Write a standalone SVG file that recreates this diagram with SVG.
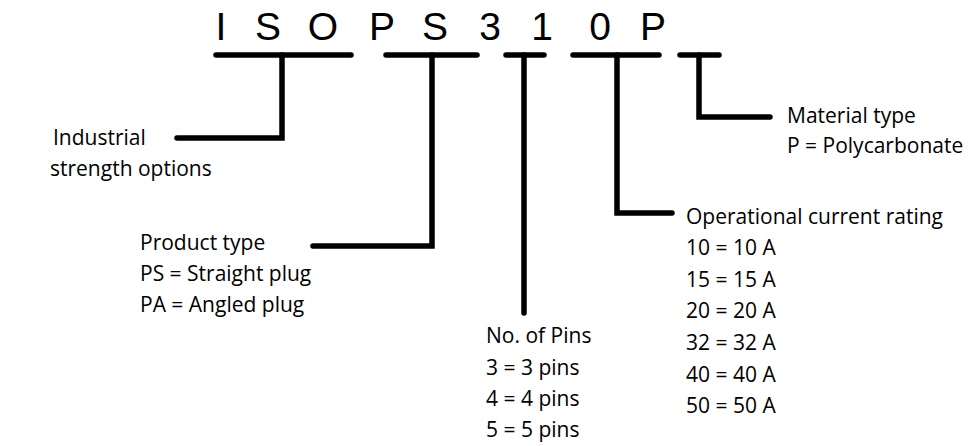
<svg xmlns="http://www.w3.org/2000/svg" width="978" height="446" viewBox="0 0 978 446">
<style>
.big{font-family:"Liberation Sans","Open Sans",sans-serif;font-size:39px;fill:#000;text-anchor:middle}
.lbl{font-family:"Open Sans","Liberation Sans",sans-serif;font-size:21px;fill:#000}
.ln{fill:none;stroke:#000;stroke-width:5.5;stroke-linecap:round;stroke-linejoin:miter}
</style>
<rect width="978" height="446" fill="#fff"/>
<g id="code">
<text class="big" x="221" y="40">I</text>
<text class="big" x="268" y="40">S</text>
<text class="big" x="323" y="40">O</text>
<text class="big" x="382" y="40">P</text>
<text class="big" x="435" y="40">S</text>
<text class="big" x="490" y="40">3</text>
<text class="big" x="542" y="40">1</text>
<text class="big" x="600" y="40">0</text>
<text class="big" x="653" y="40">P</text>
</g>
<g id="connectors">
<line class="ln" x1="216" y1="55" x2="351" y2="55"/>
<line class="ln" x1="386" y1="55" x2="477" y2="55"/>
<line class="ln" x1="506" y1="55" x2="544" y2="55"/>
<line class="ln" x1="573" y1="55" x2="659" y2="55"/>
<line class="ln" x1="680" y1="55" x2="719" y2="55"/>
<polyline class="ln" points="282,55 282,138 177,138"/>
<polyline class="ln" points="432,55 432,246 313,246"/>
<polyline class="ln" points="524,55 524,313"/>
<polyline class="ln" points="617,55 617,213 672,213"/>
<polyline class="ln" points="699,55 699,117 770,117"/>
</g>
<g id="industrial">
<text class="lbl" x="53" y="145">Industrial</text>
<text class="lbl" x="50" y="176">strength options</text>
</g>
<g id="product">
<text class="lbl" x="140" y="250">Product type</text>
<text class="lbl" x="140" y="281">PS = Straight plug</text>
<text class="lbl" x="140" y="312">PA = Angled plug</text>
</g>
<g id="pins">
<text class="lbl" x="486" y="343">No. of Pins</text>
<text class="lbl" x="486" y="375">3 = 3 pins</text>
<text class="lbl" x="486" y="406">4 = 4 pins</text>
<text class="lbl" x="486" y="437">5 = 5 pins</text>
</g>
<g id="current">
<text class="lbl" x="686" y="224">Operational current rating</text>
<text class="lbl" x="686" y="255">10 = 10 A</text>
<text class="lbl" x="686" y="287">15 = 15 A</text>
<text class="lbl" x="686" y="318">20 = 20 A</text>
<text class="lbl" x="686" y="350">32 = 32 A</text>
<text class="lbl" x="686" y="382">40 = 40 A</text>
<text class="lbl" x="686" y="413">50 = 50 A</text>
</g>
<g id="material">
<text class="lbl" x="787" y="123">Material type</text>
<text class="lbl" x="787" y="153">P = Polycarbonate</text>
</g>
</svg>
